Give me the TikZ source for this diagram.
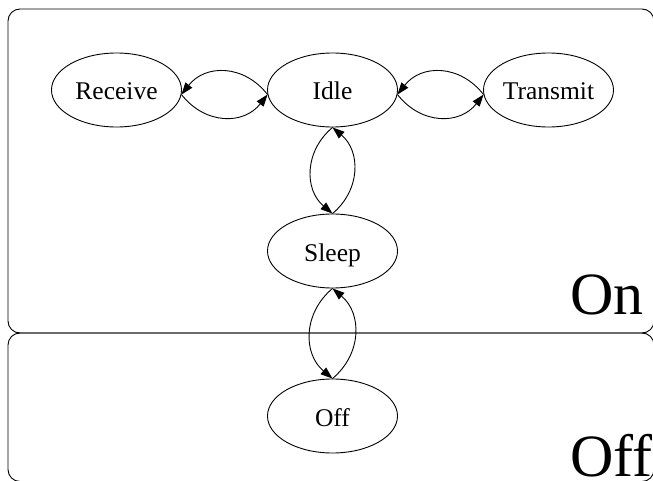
\documentclass[tikz,border=0pt]{standalone}
\usepackage{fontspec}
\setmainfont{Liberation Serif}
\usetikzlibrary{shapes.geometric,arrows.meta}
\begin{document}
\begin{tikzpicture}[x=1pt,y=1pt,
  state/.style={draw, ellipse, line width=0.9pt, minimum width=130pt, minimum height=74pt, inner sep=0pt, font=\fontsize{25.5}{30}\selectfont, text height=20pt, text depth=0pt},
  edge/.style={line width=0.9pt, -{Triangle[length=12pt,width=8.5pt]}},
  cluster/.style={draw, line width=0.9pt, rounded corners=12pt},
  clabel/.style={anchor=base west, inner sep=0pt, font=\fontsize{60}{70}\selectfont}]
\useasboundingbox (0,0) rectangle (653,-481);
\clip (0,0) rectangle (653,-481);
\draw[cluster] (8,-9) rectangle (654,-333);
\draw[cluster] (8,-333) rectangle (654,-481.5);
\node[clabel] (onlabel) at (570,-314) {On};
\node[clabel] (offlabel) at (570,-476.5) {Off};
\node[state] (receive) at (116.5,-90) {Receive};
\node[state] (idle) at (332.5,-90) {Idle};
\node[state] (transmit) at (548.5,-90) {Transmit};
\node[state] (sleep) at (332.5,-251) {Sleep};
\node[state] (off) at (332.5,-416) {Off};
\draw[edge] (idle.184) to[out=128,in=52,looseness=1.15] (receive.-4);
\draw[edge] (receive.-4) to[out=-52,in=-128,looseness=1.15] (idle.184);
\draw[edge] (transmit.184) to[out=128,in=52,looseness=1.15] (idle.-4);
\draw[edge] (idle.-4) to[out=-52,in=-128,looseness=1.15] (transmit.184);
\draw[edge] (idle.south) to[out=-140,in=140,looseness=1.1] (sleep.north);
\draw[edge] (sleep.north) to[out=40,in=-40,looseness=1.1] (idle.south);
\draw[edge] (sleep.south) to[out=-140,in=140,looseness=1.1] (off.north);
\draw[edge] (off.north) to[out=40,in=-40,looseness=1.1] (sleep.south);
\end{tikzpicture}
\end{document}
